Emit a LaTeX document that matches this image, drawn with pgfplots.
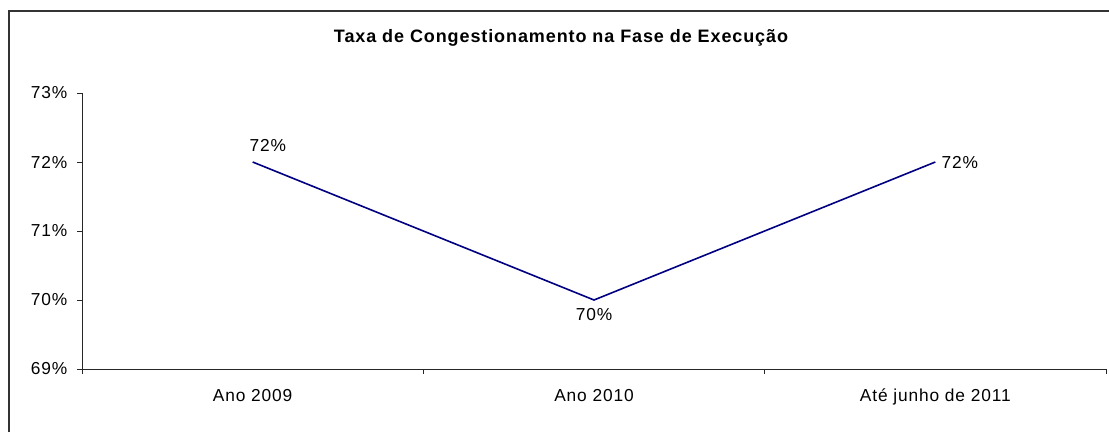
\documentclass[border=0pt]{standalone}
\usepackage{pgfplots}
\pgfplotsset{compat=1.18}
\usepackage{fontspec}
\setmainfont[LetterSpace=5]{Liberation Sans}
\definecolor{linecol}{RGB}{0,0,128}
\begin{document}
\begin{tikzpicture}
\useasboundingbox (0pt,0pt) rectangle (831.75pt,-324pt);
\draw[line width=0.8pt, black!80] (6.75pt,-324pt) -- (6.75pt,-8.25pt) -- (831.75pt,-8.25pt);
\node[font=\fontsize{13.5}{15}\selectfont\bfseries] at (420.75pt,-28.5pt) {Taxa de Congestionamento na Fase de Execução};
\begin{axis}[
  at={(61.5pt,-276.75pt)}, anchor=south west,
  scale only axis, width=768pt, height=207pt,
  xmin=-0.5, xmax=2.5, ymin=69, ymax=73,
  axis x line=bottom, axis y line=left,
  axis line style={-, line width=0.6pt, black!85},
  clip=false,
  xtick={0,1,2},
  xticklabels={Ano 2009, Ano 2010, Até junho de 2011},
  major x tick style={draw=none},
  minor xtick={-0.5,0.5,1.5,2.5},
  minor tick length=3.5pt,
  major tick length=3.5pt,
  tick align=outside,
  tick style={line width=0.6pt, black!85},
  ytick={69,70,71,72,73},
  yticklabel={\pgfmathprintnumber{\tick}\%},
  /pgf/number format/assume math mode=true,
  ticklabel style={font=\fontsize{13}{15}\selectfont},
  xticklabel style={yshift=-8pt},
  yticklabel style={xshift=-4pt},
]
\addplot[linecol, line width=1.2pt, mark=none] coordinates {(0,72) (1,70) (2,72)};
\addplot[draw=none, mark=none, point meta=explicit symbolic, nodes near coords,
  nodes near coords style={anchor=south west, inner sep=0pt, xshift=-2.5pt, yshift=7.5pt, font=\fontsize{13}{15}\selectfont}]
  coordinates {(0,72) [72\%]};
\addplot[draw=none, mark=none, point meta=explicit symbolic, nodes near coords,
  nodes near coords style={anchor=north, inner sep=0pt, yshift=-6pt, font=\fontsize{13}{15}\selectfont}]
  coordinates {(1,70) [70\%]};
\addplot[draw=none, mark=none, point meta=explicit symbolic, nodes near coords,
  nodes near coords style={anchor=west, inner sep=0pt, xshift=4.5pt, yshift=0pt, font=\fontsize{13}{15}\selectfont}]
  coordinates {(2,72) [72\%]};
\end{axis}
\end{tikzpicture}
\end{document}
